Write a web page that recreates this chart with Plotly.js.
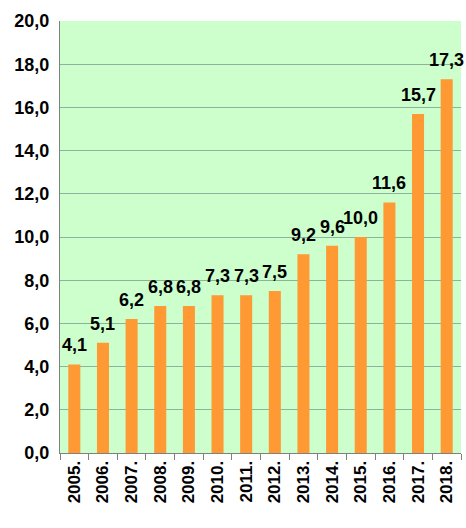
<!DOCTYPE html>
<html>
<head>
<meta charset="utf-8">
<script src="https://cdn.plot.ly/plotly-3.0.1.min.js"></script>
<style>html,body{margin:0;padding:0;background:#fff;}#chart{width:466px;height:528px;}</style>
</head>
<body>
<div id="chart"></div>
<script>
const years = ['2005.','2006.','2007.','2008.','2009.','2010.','2011.','2012.','2013.','2014.','2015.','2016.','2017.','2018.'];
const values = [4.1, 5.1, 6.2, 6.8, 6.8, 7.3, 7.3, 7.5, 9.2, 9.6, 10.0, 11.6, 15.7, 17.3];
const yTicks = [0, 2, 4, 6, 8, 10, 12, 14, 16, 18, 20];

const trace = {
  type: 'bar',
  x: years,
  y: values,
  marker: {color: '#FF9933'},
  width: 0.42,
  hoverinfo: 'none'
};

const fmt = v => v.toFixed(1).replace('.', ',');
const annotations = years.map((yr, i) => ({
  x: i, y: values[i], xref: 'x', yref: 'y',
  text: fmt(values[i]),
  showarrow: false,
  yanchor: 'bottom', xanchor: 'center',
  yshift: 7,
  font: {family: 'Liberation Sans, Arial, sans-serif', size: 18, color: '#000', weight: 'bold'}
}));

const layout = {
  width: 466, height: 528,
  margin: {l: 60, r: 5, t: 21, b: 75},
  paper_bgcolor: '#ffffff',
  plot_bgcolor: '#CCFFCC',
  separators: ', ',
  showlegend: false,
  bargap: 0.58,
  font: {family: 'Liberation Sans, Arial, sans-serif', color: '#000'},
  annotations: annotations,
  xaxis: {
    type: 'category',
    categoryorder: 'array', categoryarray: years,
    range: [-0.5, years.length - 0.5],
    tickangle: -90,
    tickfont: {size: 17, color: '#000', weight: 'bold'},
    ticks: 'outside', tickson: 'boundaries', ticklen: 6, tickcolor: '#808080',
    showline: true, linecolor: '#808080', linewidth: 1,
    showgrid: false
  },
  yaxis: {
    range: [0, 20],
    tickvals: yTicks,
    tickformat: '.1f',
    tickfont: {size: 18, color: '#000', weight: 'bold'},
    showgrid: true, gridcolor: '#8DB39E', gridwidth: 1,
    showline: true, linecolor: '#808080', linewidth: 1,
    zeroline: false,
    ticks: '', ticklabelstandoff: 6
  }
};

Plotly.newPlot('chart', [trace], layout, {staticPlot: true, displayModeBar: false});
</script>
</body>
</html>
